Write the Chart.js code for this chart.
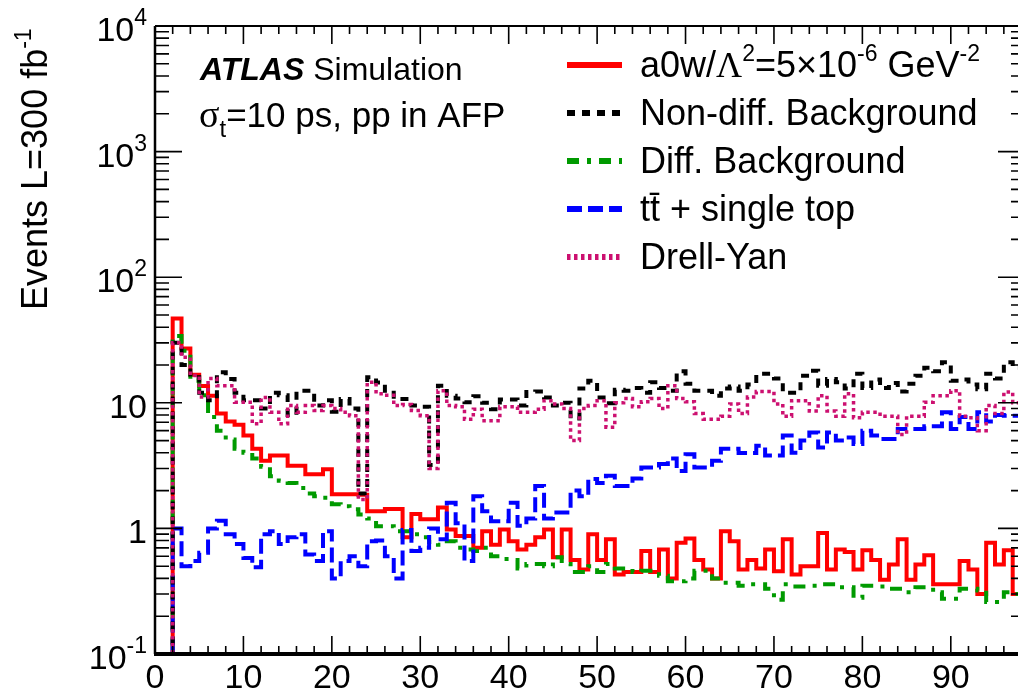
<!DOCTYPE html>
<html>
<head>
<meta charset="utf-8">
<script src="https://cdn.jsdelivr.net/npm/chart.js@4.4.0/dist/chart.umd.min.js"></script>
<style>
  html, body { margin: 0; padding: 0; background: #fff; }
  #wrap { width: 1018px; height: 693px; }
</style>
</head>
<body>
<div id="wrap"><canvas id="chart" width="1018" height="693"></canvas></div>
<script>
// histogram bins are 1 wide, first bin starts at 2
const firstBin = 2;
const xTickValues = [0, 10, 20, 30, 40, 50, 60, 70, 80, 90];
const yDecades = [-1, 0, 1, 2, 3, 4];

// a0w/L^2 = 5e-6 signal
const signal = [
  47, 27, 16.7, 13.6, 11.4, 8.2, 7.1, 6.7, 5.5, 4.3,
  3.45, 3.8, 3.8, 3.15, 3.15, 2.7, 2.7, 2.96, 1.87, 1.87,
  1.87, 1.85, 1.37, 1.37, 1.43, 1.43, 0.85, 1.3, 1.18, 1.18,
  1.47, 0.98, 0.87, 0.87, 0.70, 0.95, 0.74, 0.98, 0.79, 0.68,
  0.74, 0.85, 0.98, 0.59, 0.98, 0.56, 0.47, 0.90, 0.56, 0.82,
  0.43, 0.45, 0.45, 0.66, 0.45, 0.68, 0.40, 0.77, 0.83, 0.56,
  0.47, 0.40, 0.95, 0.79, 0.47, 0.56, 0.48, 0.68, 0.455, 0.82,
  0.43, 0.50, 0.50, 0.92, 0.47, 0.68, 0.65, 0.47, 0.67, 0.56,
  0.39, 0.515, 0.82, 0.39, 0.515, 0.61, 0.36, 0.36, 0.36, 0.55,
  0.47, 0.30, 0.77, 0.515, 0.67, 0.30
];

// non-diffractive background
const nonDiff = [
  30, 20, 16, 12, 10.5, 17.5, 15.5, 12, 10.5, 10.5,
  9, 12, 11.5, 8, 12.5, 12.5, 9.5, 10.5, 8.5, 10.7,
  9, 1.9, 16, 14.5, 12, 10.7, 10.7, 9.5, 9.3, 3.2,
  13.7, 11.4, 10.8, 10.1, 11.3, 10, 8.9, 10.6, 10.6, 9.5,
  12.2, 12.3, 11, 9.5, 10, 7.5, 13, 15, 11, 9.9,
  12.7, 12.5, 13.1, 12, 14.6, 13.1, 12.5, 17.8, 14.2, 12.5,
  12.5, 11.4, 13, 13.5, 12.5, 14, 17, 17, 15.6, 12,
  12, 16.4, 18, 13.7, 15.5, 14.6, 13, 17, 13.1, 15.3,
  13.1, 14.4, 12.3, 14.2, 16.4, 19, 17.8, 21, 15, 15.3,
  14, 12.8, 17, 15.6, 21, 19
];

// diffractive background
const diffBg = [
  34, 26, 15, 11.5, 7.7, 6.0, 5.1, 4.3, 4.0, 3.6,
  3.1, 2.6, 2.4, 2.3, 2.1, 1.9, 1.8, 1.75, 1.56, 1.5,
  1.42, 1.29, 1.2, 1.04, 1.04, 0.95, 0.95, 0.9, 0.85, 0.78,
  0.74, 0.79, 0.70, 0.68, 0.66, 0.70, 0.60, 0.57, 0.56, 0.48,
  0.52, 0.52, 0.50, 0.59, 0.52, 0.45, 0.45, 0.50, 0.45, 0.52,
  0.48, 0.48, 0.45, 0.46, 0.46, 0.42, 0.38, 0.38, 0.40, 0.46,
  0.46, 0.40, 0.37, 0.37, 0.35, 0.36, 0.36, 0.33, 0.27, 0.36,
  0.345, 0.345, 0.35, 0.36, 0.36, 0.34, 0.34, 0.28, 0.35, 0.35,
  0.345, 0.33, 0.33, 0.31, 0.34, 0.34, 0.31, 0.275, 0.275, 0.33,
  0.33, 0.32, 0.26, 0.26, 0.31, 0.30
];

// ttbar + single top
const ttbar = [
  1.0, 0.50, 0.55, 0.64, 1.0, 1.15, 0.9, 0.75, 0.58, 0.49,
  0.9, 0.95, 0.75, 0.85, 0.9, 0.62, 0.55, 0.95, 0.40, 0.55,
  0.6, 0.5, 0.79, 0.8, 0.6, 0.40, 0.97, 0.66, 0.7, 1.0,
  0.82, 1.6, 1.1, 0.55, 1.8, 1.37, 1.14, 1.14, 1.6, 1.05,
  1.2, 2.18, 1.2, 1.34, 1.34, 2.0, 1.8, 2.47, 2.3, 2.62,
  2.18, 2.18, 2.5, 3.06, 3.06, 3.25, 3.6, 2.87, 3.9, 3.06,
  3.06, 3.45, 4.3, 4.3, 3.98, 3.98, 4.55, 3.8, 3.8, 5.5,
  4.0, 5.0, 5.8, 4.4, 5.8, 5.0, 5.3, 4.7, 6.0, 5.5,
  5.15, 5.15, 6.2, 6.2, 6.2, 6.5, 6.5, 8.4, 6.2, 7.7,
  6.2, 8.4, 7.1, 8.0, 7.9, 7.9
];

// Drell-Yan
const drellYan = [
  30, 23, 16.5, 11.1, 15.6, 13.7, 13.7, 10.1, 10.1, 6.8,
  11, 8.4, 6.8, 9.5, 8.4, 9.5, 8.7, 9.5, 9.0, 8.4,
  7.9, 1.7, 14.6, 11.8, 11.5, 9.5, 9.7, 8.7, 7.9, 3.0,
  12.5, 9.5, 9.3, 7.4, 8.9, 7.2, 7.2, 9.3, 9.3, 8.4,
  8.4, 8.9, 10.4, 9.8, 9.0, 5.0, 9.0, 9.5, 10.4, 6.4,
  10, 10.8, 9.3, 10.2, 10.8, 9.0, 13.7, 10.8, 10.2, 8.2,
  7.4, 7.4, 7.8, 9.8, 8.2, 11.1, 12.3, 12.3, 9.8, 7.8,
  10.4, 10.4, 8.6, 11.4, 8.6, 7.8, 11.8, 7.6, 8.4, 8.4,
  7.8, 7.8, 5.6, 7.8, 7.8, 10.1, 11.4, 11.4, 12.5, 7.8,
  7.6, 6.0, 9.5, 8.2, 12.2, 10
];

const FONT = "'Liberation Sans', Arial, sans-serif";
const SERIF = "'Liberation Serif', 'Times New Roman', serif";

const series = [
  { data: signal, color: '#ff0000', width: 4, dash: [], order: 5 },
  { data: nonDiff, color: '#000000', width: 4, dash: [8, 7], order: 2 },
  { data: diffBg, color: '#009a00', width: 4, dash: [12, 8, 4, 8], order: 4 },
  { data: ttbar, color: '#0000ff', width: 4, dash: [15, 6], order: 3 },
  { data: drellYan, color: '#cc1070', width: 3.5, dash: [3.5, 3.5], order: 1 }
];

// bin contents -> step points at the left bin edges
function histPoints(values) {
  const pts = [{ x: firstBin, y: 0.01 }];
  values.forEach((v, i) => pts.push({ x: firstBin + i, y: v }));
  pts.push({ x: firstBin + values.length, y: values[values.length - 1] });
  return pts;
}

function fontOf(p) {
  return (p.style || '') + ' ' + p.size + 'px ' + (p.family || FONT);
}

// draw a run of text pieces (for super/subscripts)
function drawParts(ctx, parts, x, y, align) {
  let total = 0;
  parts.forEach(p => {
    ctx.font = fontOf(p);
    p.w = ctx.measureText(p.t).width;
    total += p.w;
  });
  let cx = align === 'right' ? x - total : x;
  parts.forEach(p => {
    ctx.font = fontOf(p);
    ctx.fillText(p.t, cx, y + (p.dy || 0));
    cx += p.w;
  });
}

const legendRows = [
  { i: 0, parts: [
    { t: 'a0w/', size: 36 }, { t: 'Λ', size: 36, family: SERIF },
    { t: '2', size: 23, dy: -16 }, { t: '=5×10', size: 36 },
    { t: '-6', size: 23, dy: -16 }, { t: ' GeV', size: 36 },
    { t: '-2', size: 23, dy: -16 }] },
  { i: 1, parts: [{ t: 'Non-diff. Background', size: 36 }] },
  { i: 2, parts: [{ t: 'Diff. Background', size: 36 }] },
  { i: 3, parts: [{ t: 'tt\u0304 + single top', size: 36 }] },
  { i: 4, parts: [{ t: 'Drell-Yan', size: 36 }] }
];

const decorations = {
  id: 'decorations',
  afterDatasetsDraw(chart) {
    const { ctx, chartArea: a, scales: { x, y } } = chart;
    ctx.save();
    ctx.strokeStyle = '#000';
    ctx.lineWidth = 1.6;
    ctx.beginPath();
    yDecades.forEach(d => {
      for (let k = 1; k <= 9; k++) {
        const v = k * Math.pow(10, d);
        if (v > 10000) break;
        const py = y.getPixelForValue(v);
        const major = k === 1;
        ctx.moveTo(a.left, py); ctx.lineTo(a.left + (major ? 27 : 14), py);
        ctx.moveTo(a.right, py); ctx.lineTo(a.right - (major ? 20 : 7), py);
      }
    });
    for (let v = 0; v <= x.max; v += 2) {
      const px = x.getPixelForValue(v);
      const len = v % 10 === 0 ? 18 : 8;
      ctx.moveTo(px, a.bottom); ctx.lineTo(px, a.bottom - len);
      ctx.moveTo(px, a.top); ctx.lineTo(px, a.top + len);
    }
    ctx.stroke();

    ctx.lineWidth = 2.5;
    ctx.beginPath();
    ctx.moveTo(a.left, a.top); ctx.lineTo(a.left, a.bottom);
    ctx.stroke();
    ctx.lineWidth = 2;
    ctx.beginPath();
    ctx.moveTo(a.left, a.top); ctx.lineTo(a.right, a.top);
    ctx.stroke();
    ctx.lineWidth = 4;
    ctx.beginPath();
    ctx.moveTo(a.left - 1, a.bottom); ctx.lineTo(a.right, a.bottom);
    ctx.stroke();
    ctx.restore();
  },
  afterDraw(chart) {
    const { ctx, scales: { y } } = chart;
    ctx.save();
    ctx.fillStyle = '#000';
    ctx.textBaseline = 'alphabetic';

    // y tick labels 10^n
    yDecades.forEach(d => {
      const py = y.getPixelForValue(Math.pow(10, d)) + 15;
      let parts;
      if (d === 0) parts = [{ t: '1', size: 34 }];
      else if (d === 1) parts = [{ t: '10', size: 34 }];
      else parts = [{ t: '10', size: 34 }, { t: String(d), size: 23, dy: -16 }];
      drawParts(ctx, parts, 147, py, 'right');
    });

    // y axis title
    ctx.save();
    ctx.translate(47, 310);
    ctx.rotate(-Math.PI / 2);
    drawParts(ctx, [{ t: 'Events L=300 fb', size: 36 }, { t: '-1', size: 23, dy: -16 }], 0, 0, 'left');
    ctx.restore();

    // ATLAS label
    drawParts(ctx, [{ t: 'ATLAS', size: 32, style: 'italic bold' }, { t: ' Simulation', size: 32 }], 200, 80, 'left');
    drawParts(ctx, [{ t: 'σ', size: 38, family: SERIF }, { t: 't', size: 24, dy: 10 },
      { t: '=10 ps, pp in AFP', size: 35 }], 199, 127, 'left');

    // legend
    legendRows.forEach((row, n) => {
      const s = series[row.i];
      const ly = 65 + n * 48;
      ctx.save();
      ctx.strokeStyle = s.color;
      ctx.lineWidth = 6;
      ctx.setLineDash(s.dash);
      ctx.beginPath();
      ctx.moveTo(567, ly); ctx.lineTo(622, ly);
      ctx.stroke();
      ctx.restore();
      drawParts(ctx, row.parts, 640, ly + 12, 'left');
    });
    ctx.restore();
  }
};

new Chart(document.getElementById('chart'), {
  type: 'line',
  data: {
    datasets: series.map(s => ({
      data: histPoints(s.data),
      borderColor: s.color,
      borderWidth: s.width,
      borderDash: s.dash,
      stepped: true,
      pointRadius: 0,
      fill: false,
      order: s.order
    }))
  },
  options: {
    responsive: false,
    animation: false,
    layout: { padding: { top: 26, right: 0, left: 0, bottom: 0 } },
    plugins: { legend: { display: false }, tooltip: { enabled: false } },
    scales: {
      x: {
        type: 'linear',
        min: 0,
        max: 97.6,
        afterFit: s => { s.height = 39; },
        afterBuildTicks: s => { s.ticks = xTickValues.map(v => ({ value: v })); },
        ticks: { font: { family: FONT, size: 34 }, color: '#000', padding: 4, maxRotation: 0, autoSkip: false },
        grid: { display: false, drawTicks: false },
        border: { display: false }
      },
      y: {
        type: 'logarithmic',
        min: 0.1,
        max: 10000,
        afterFit: s => { s.width = 155; },
        ticks: { display: false },
        grid: { display: false },
        border: { display: false }
      }
    }
  },
  plugins: [decorations]
});
</script>
</body>
</html>
